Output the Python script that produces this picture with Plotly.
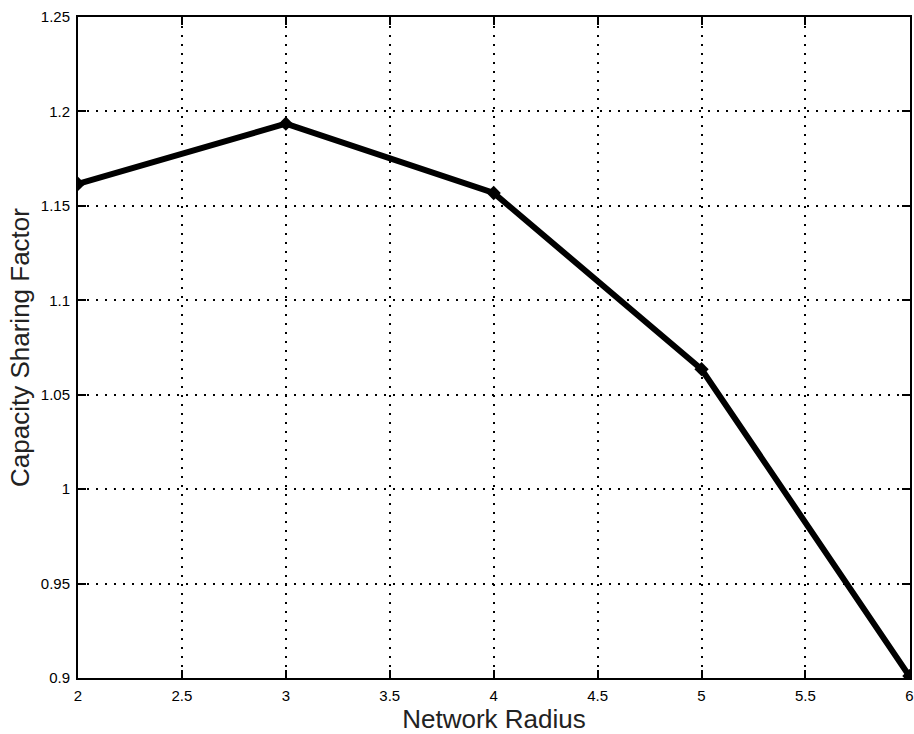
import plotly.graph_objects as go

radius = [2, 3, 4, 5, 6]
factor = [1.1616, 1.1935, 1.1568, 1.0635, 0.901]
xticks = [2, 2.5, 3, 3.5, 4, 4.5, 5, 5.5, 6]
xtick_text = ["2", "2.5", "3", "3.5", "4", "4.5", "5", "5.5", "6"]
yticks = [0.9, 0.95, 1.0, 1.05, 1.1, 1.15, 1.2, 1.25]
ytick_text = ["0.9", "0.95", "1", "1.05", "1.1", "1.15", "1.2", "1.25"]

FONT = "Liberation Sans, Arial, sans-serif"

fig = go.Figure()
fig.add_trace(go.Scatter(
    x=radius, y=factor, mode="lines+markers",
    line=dict(color="black", width=6),
    marker=dict(symbol="diamond", size=11, color="black"),
    showlegend=False,
))

axis_common = dict(
    showline=True, linecolor="black", linewidth=2, mirror="ticks",
    ticks="inside", ticklen=8, tickcolor="black", tickwidth=2,
    showgrid=True, gridcolor="black", gridwidth=1.5, griddash="2px,7px",
    zeroline=False, ticklabeloverflow="allow", ticklabelstandoff=3,
    tickfont=dict(family=FONT, size=15, color="black"),
)

fig.update_layout(
    width=914, height=734,
    margin=dict(l=78, r=0, t=17, b=56),
    paper_bgcolor="white", plot_bgcolor="white",
    xaxis=dict(range=[2, 6.003], tickvals=xticks, ticktext=xtick_text,
               title=dict(text="Network Radius", standoff=0,
                          font=dict(family=FONT, size=26, color="#222")),
               **axis_common),
    yaxis=dict(range=[0.9, 1.25], tickvals=yticks, ticktext=ytick_text,
               title=dict(text="Capacity Sharing Factor", standoff=4,
                          font=dict(family=FONT, size=26, color="#222")),
               **axis_common),
)

fig.write_html("out.html")
